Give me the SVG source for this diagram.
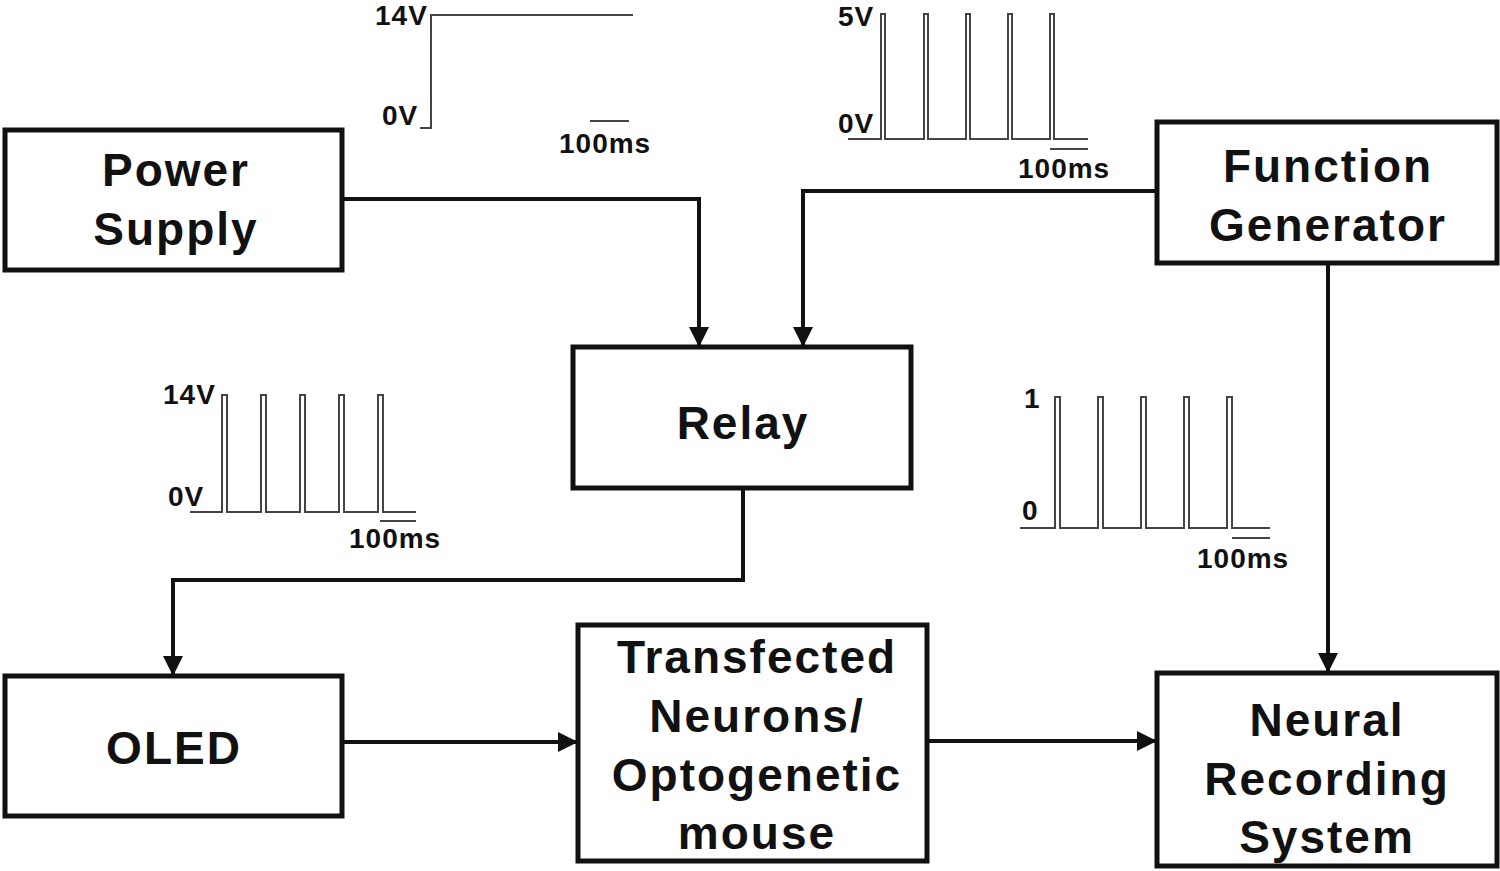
<svg xmlns="http://www.w3.org/2000/svg" width="1500" height="871" viewBox="0 0 1500 871">
<style>
.box{fill:#fff;stroke:#111;stroke-width:5}
.lbl{font-family:"Liberation Sans",Arial,sans-serif;font-weight:bold;font-size:46px;letter-spacing:2px;fill:#111;text-anchor:middle}
.con{fill:none;stroke:#111;stroke-width:4}
.wave{fill:none;stroke:#444;stroke-width:2}
.wt{font-family:"Liberation Sans",Arial,sans-serif;font-size:28px;letter-spacing:1px;font-weight:bold;fill:#111}
</style>
<defs>
<marker id="ah" markerWidth="5" markerHeight="5" refX="4.5" refY="2.5" orient="auto" markerUnits="strokeWidth">
<path d="M0,0 L5,2.5 L0,5 Z" fill="#111"/>
</marker>
</defs>
<rect width="1500" height="871" fill="#fff"/>
<g id="connectors">
<polyline class="con" points="342,199 699,199 699,345" marker-end="url(#ah)"/>
<polyline class="con" points="1160,191 803,191 803,345" marker-end="url(#ah)"/>
<polyline class="con" points="743,488 743,580 173,580 173,674" marker-end="url(#ah)"/>
<polyline class="con" points="342,742 576,742" marker-end="url(#ah)"/>
<polyline class="con" points="927,741 1155,741" marker-end="url(#ah)"/>
<polyline class="con" points="1328,263 1328,671" marker-end="url(#ah)"/>
</g>
<g id="waveforms">
<polyline class="wave" points="420,128 431,128 431,15 633,15"/>
<line class="wave" x1="590" y1="121" x2="629" y2="121"/>
<text class="wt" x="375" y="25">14V</text>
<text class="wt" x="382" y="125">0V</text>
<text class="wt" x="559" y="153">100ms</text>

<polyline class="wave" points="848,139 881,139 881,14 885,14 885,139 924,139 924,14 928,14 928,139 966,139 966,14 970,14 970,139 1008,139 1008,14 1012,14 1012,139 1050,139 1050,14 1054,14 1054,139 1088,139"/>
<line class="wave" x1="1050" y1="149" x2="1088" y2="149"/>
<text class="wt" x="838" y="26">5V</text>
<text class="wt" x="838" y="133">0V</text>
<text class="wt" x="1018" y="178">100ms</text>

<polyline class="wave" points="190,512 222,512 222,395 227,395 227,512 261,512 261,395 266,395 266,512 300,512 300,395 305,395 305,512 339,512 339,395 344,395 344,512 378,512 378,395 383,395 383,512 416,512"/>
<line class="wave" x1="380" y1="521" x2="416" y2="521"/>
<text class="wt" x="163" y="404">14V</text>
<text class="wt" x="168" y="506">0V</text>
<text class="wt" x="349" y="548">100ms</text>

<polyline class="wave" points="1020,528 1055,528 1055,397 1060,397 1060,528 1098,528 1098,397 1103,397 1103,528 1141,528 1141,397 1146,397 1146,528 1184,528 1184,397 1189,397 1189,528 1227,528 1227,397 1232,397 1232,528 1270,528"/>
<line class="wave" x1="1232" y1="538" x2="1270" y2="538"/>
<text class="wt" x="1024" y="408">1</text>
<text class="wt" x="1022" y="520">0</text>
<text class="wt" x="1197" y="568">100ms</text>
</g>
<g id="power-supply">
<rect class="box" x="5" y="130" width="337" height="140"/>
<text class="lbl" x="176" y="186">Power</text>
<text class="lbl" x="176" y="245">Supply</text>
</g>
<g id="function-generator">
<rect class="box" x="1157" y="122" width="340" height="141"/>
<text class="lbl" x="1328" y="182">Function</text>
<text class="lbl" x="1328" y="241">Generator</text>
</g>
<g id="relay">
<rect class="box" x="573" y="347" width="338" height="141"/>
<text class="lbl" x="743" y="439">Relay</text>
</g>
<g id="oled">
<rect class="box" x="5" y="676" width="337" height="140"/>
<text class="lbl" x="174" y="764">OLED</text>
</g>
<g id="transfected">
<rect class="box" x="578" y="625" width="349" height="236"/>
<text class="lbl" x="757" y="673">Transfected</text>
<text class="lbl" x="757" y="732">Neurons/</text>
<text class="lbl" x="757" y="791">Optogenetic</text>
<text class="lbl" x="757" y="849">mouse</text>
</g>
<g id="neural-recording">
<rect class="box" x="1157" y="673" width="340" height="193"/>
<text class="lbl" x="1327" y="736">Neural</text>
<text class="lbl" x="1327" y="795">Recording</text>
<text class="lbl" x="1327" y="853">System</text>
</g>
</svg>
